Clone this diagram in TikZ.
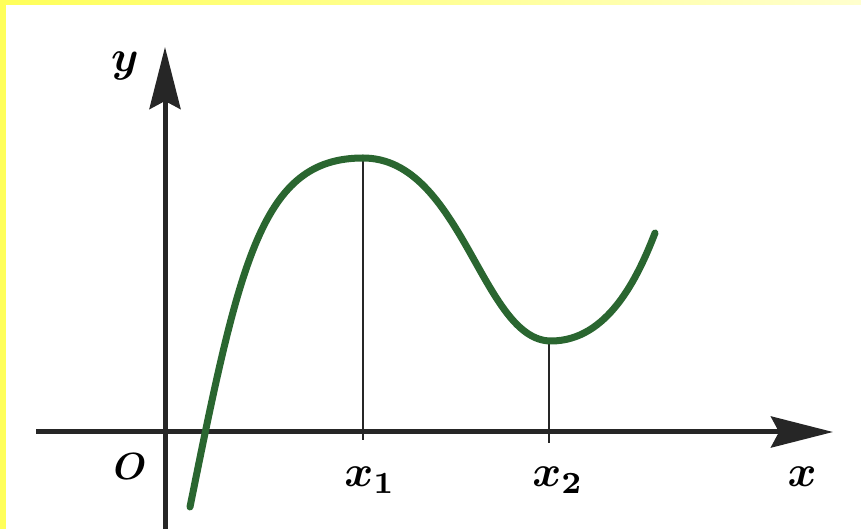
\documentclass[tikz,border=0pt]{standalone}
\usepackage{amsmath,amssymb}
\usepackage{xcolor}
\usepackage{tikz}
\usetikzlibrary{arrows.meta,positioning}
\definecolor{bgyellow}{RGB}{255,255,90}
\definecolor{curvegreen}{RGB}{42,102,48}
\definecolor{axisgray}{RGB}{38,38,38}

\begin{document}
\begin{tikzpicture}[
    x=1pt,y=1pt,
    axis/.style={-{Stealth[length=62pt,width=31pt,inset=8pt]},line width=5pt,axisgray},
    graph/.style={line width=7pt,curvegreen,line cap=round},
    tick/.style={line width=2.2pt,axisgray},
    lbl/.style={font=\boldmath,scale=4.4,anchor=base,inner sep=0pt}
  ]
    % frame
    \fill[bgyellow] (0,0) rectangle (861,529);
    \shade[left color=bgyellow,right color=bgyellow!30] (6,524) rectangle (861,529);
    \fill[white] (6,0) rectangle (861,524);
    \useasboundingbox (0,0) rectangle (861,529);

    \coordinate (ybot) at (165,0);
    \coordinate (ytop) at (165,482);
    \coordinate (xleft) at (36,97);
    \coordinate (xright) at (833,97);
    \coordinate (start) at (190,22);
    \coordinate (maxpt) at (363,371);
    \coordinate (minpt) at (551,188);
    \coordinate (stop) at (655,296);
    \coordinate (foot1) at (363,89);
    \coordinate (foot2) at (549,86);

    \draw[axis] (ybot) -- (ytop);
    \draw[axis] (xleft) -- (xright);

    \draw[tick] (maxpt) -- (foot1);
    \draw[tick] (minpt -| foot2) -- (foot2);

    % the graph
    \draw[graph] (start) .. controls (240,270) and (262,371) .. (maxpt)
      .. controls (462,371) and (482,188) .. (minpt)
      .. controls (608,188) and (638,252) .. (stop);

    \node[lbl] (ylabel) at (125,457) {$y$};
    \node[lbl,scale=0.86] (olabel) at (130,49) {$O$};
    \node[lbl] (x1label) at (370,42) {$x_1$};
    \node[lbl] (x2label) at (558,42) {$x_2$};
    \node[lbl] (xlabel) at (802,42) {$x$};
  \end{tikzpicture}
\end{document}
